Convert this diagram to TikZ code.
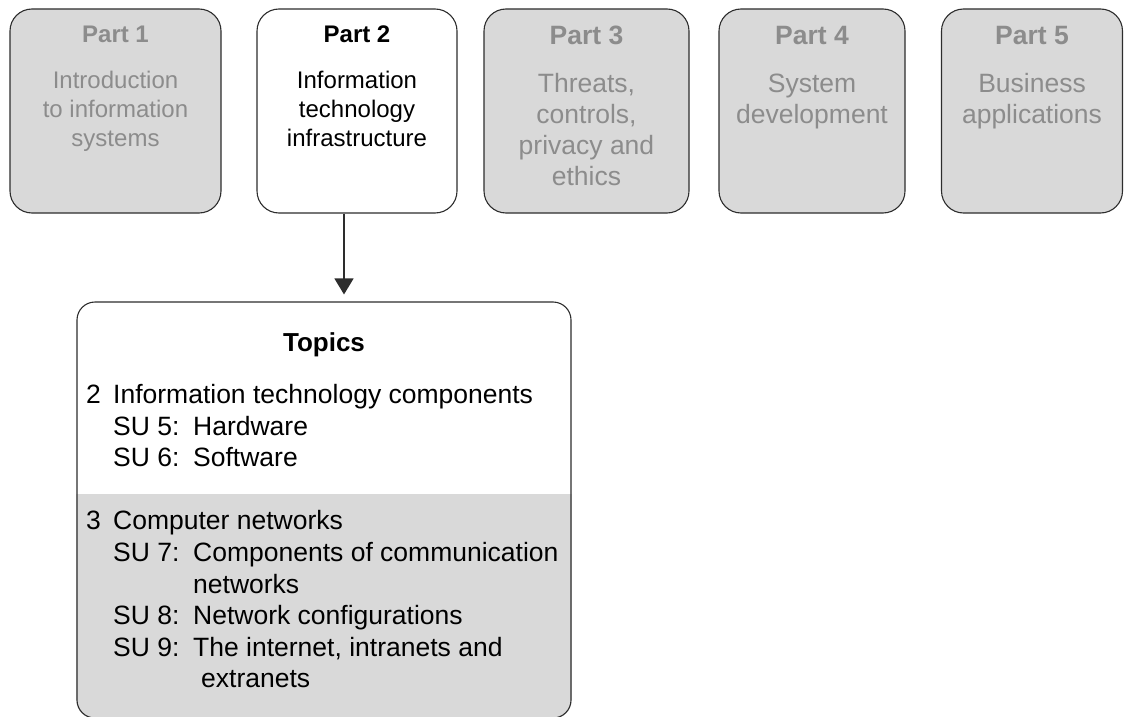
\documentclass[tikz,border=0pt]{standalone}
\usepackage{fontspec}
\setmainfont{Liberation Sans}
\usetikzlibrary{arrows.meta, positioning, backgrounds}
\definecolor{boxgray}{RGB}{217,217,217}
\definecolor{textgray}{RGB}{140,140,140}
\definecolor{edgegray}{RGB}{45,45,45}
\tikzset{
  partbox/.style={draw=edgegray, line width=1.1pt, fill=boxgray, rounded corners=22pt, minimum height=204pt, inner sep=0pt},
  parttext/.style={align=center, inner sep=0pt, text=textgray},
  smallfont/.style={font=\fontsize{24}{29}\selectfont},
  largefont/.style={font=\fontsize{26.5}{31}\selectfont},
  topicbox/.style={draw=edgegray, line width=1.1pt, rounded corners=18pt, minimum width=494pt, minimum height=416pt, inner sep=0pt},
  topiclist/.style={anchor=north west, align=left, inner sep=0pt, font=\fontsize{26.5}{31.6}\selectfont},
  flowarrow/.style={draw=edgegray, line width=1.4pt, -{Triangle[width=19pt,length=16pt]}, shorten >=7pt}
}
\newcommand{\sulabel}[1]{\hspace*{27pt}\makebox[80pt][l]{#1}}
\begin{document}
\begin{tikzpicture}[x=1pt, y=-1pt]
\useasboundingbox (0,0) rectangle (1124,717);
%top row
\node[partbox, minimum width=211pt] (p1) at (115.5,111) {};
\node[partbox, minimum width=200pt, fill=white] (p2) at (357,111) {};
\node[partbox, minimum width=205pt] (p3) at (586.5,111) {};
\node[partbox, minimum width=186pt] (p4) at (812,111) {};
\node[partbox, minimum width=181pt] (p5) at (1032,111) {};
\node[parttext, smallfont, below=17.5pt of p1.north] (t1) {\textbf{Part 1}\\[17pt]Introduction\\to information\\systems};
\node[parttext, smallfont, text=black, below=17.5pt of p2.north] (t2) {\textbf{Part 2}\\[17pt]Information\\technology\\infrastructure};
\node[parttext, largefont, below=17.5pt of p3.north] (t3) {\textbf{Part 3}\\[16.7pt]Threats,\\controls,\\privacy and\\ethics};
\node[parttext, largefont, below=17.5pt of p4.north] (t4) {\textbf{Part 4}\\[16.7pt]System\\development};
\node[parttext, largefont, below=17.5pt of p5.north] (t5) {\textbf{Part 5}\\[16.7pt]Business\\applications};
%topics box
\node[topicbox] (topics) at (324,510) {};
\coordinate (split) at (0,494);
\begin{scope}[on background layer]
\clip[rounded corners=18pt] (topics.north west) rectangle (topics.south east);
\fill[boxgray] (topics.west |- split) rectangle (topics.south east);
\end{scope}
\node[anchor=base, inner sep=0pt, font=\fontsize{26}{31}\selectfont\bfseries] (title) at (324,351.7) {Topics};
\node[topiclist] (list) at (86,384) {\makebox[27pt][l]{2}Information technology components\\
\sulabel{SU 5:}Hardware\\
\sulabel{SU 6:}Software\\
\mbox{}\\
\makebox[27pt][l]{3}Computer networks\\
\sulabel{SU 7:}Components of communication\\
\hspace*{107pt}networks\\
\sulabel{SU 8:}Network configurations\\
\sulabel{SU 9:}The internet, intranets and\\
\hspace*{115pt}extranets};
%arrow between
\draw[flowarrow] ([xshift=-13pt]p2.south) -- ([xshift=-13pt]p2.south |- topics.north);
\end{tikzpicture}
\end{document}
